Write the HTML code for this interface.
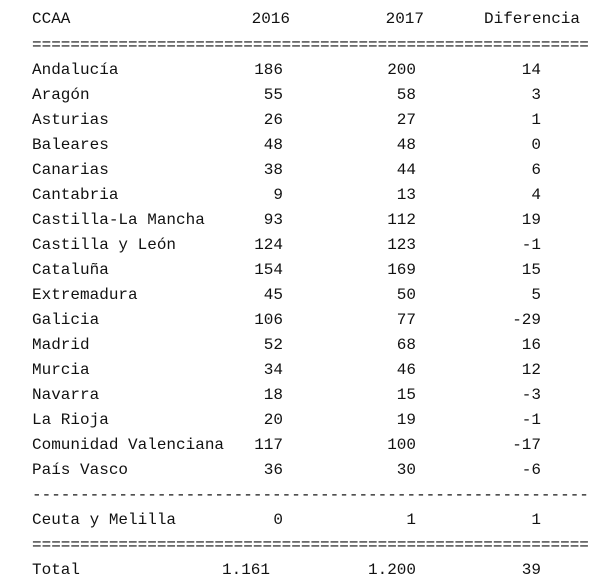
<!DOCTYPE html>
<html><head><meta charset="utf-8"><style>
body{margin:0;background:#fff;width:605px;height:582px;overflow:hidden;position:relative;font-family:"Liberation Mono",monospace;font-size:16px;color:#111}
.r{position:absolute;left:0;width:605px;height:25px;line-height:25px}
.r span{position:absolute;white-space:pre}
.a{left:32px}
.b{right:322px;text-align:right}
.c{right:189px;text-align:right}
.d{right:64px;text-align:right}
.l{position:absolute;left:32px;white-space:pre;height:25px;line-height:25px}
</style></head><body>
<div class="r" style="top:7px"><span class="a">CCAA</span><span class="b" style="right:315px">2016</span><span class="c" style="right:181px">2017</span><span class="d" style="right:25px">Diferencia</span></div>
<div class="l" style="top:33px">==========================================================</div>
<div class="r" style="top:58px"><span class="a">Andalucía</span><span class="b">186</span><span class="c">200</span><span class="d">14</span></div>
<div class="r" style="top:83px"><span class="a">Aragón</span><span class="b">55</span><span class="c">58</span><span class="d">3</span></div>
<div class="r" style="top:108px"><span class="a">Asturias</span><span class="b">26</span><span class="c">27</span><span class="d">1</span></div>
<div class="r" style="top:133px"><span class="a">Baleares</span><span class="b">48</span><span class="c">48</span><span class="d">0</span></div>
<div class="r" style="top:158px"><span class="a">Canarias</span><span class="b">38</span><span class="c">44</span><span class="d">6</span></div>
<div class="r" style="top:183px"><span class="a">Cantabria</span><span class="b">9</span><span class="c">13</span><span class="d">4</span></div>
<div class="r" style="top:208px"><span class="a">Castilla-La Mancha</span><span class="b">93</span><span class="c">112</span><span class="d">19</span></div>
<div class="r" style="top:233px"><span class="a">Castilla y León</span><span class="b">124</span><span class="c">123</span><span class="d">-1</span></div>
<div class="r" style="top:258px"><span class="a">Cataluña</span><span class="b">154</span><span class="c">169</span><span class="d">15</span></div>
<div class="r" style="top:283px"><span class="a">Extremadura</span><span class="b">45</span><span class="c">50</span><span class="d">5</span></div>
<div class="r" style="top:308px"><span class="a">Galicia</span><span class="b">106</span><span class="c">77</span><span class="d">-29</span></div>
<div class="r" style="top:333px"><span class="a">Madrid</span><span class="b">52</span><span class="c">68</span><span class="d">16</span></div>
<div class="r" style="top:358px"><span class="a">Murcia</span><span class="b">34</span><span class="c">46</span><span class="d">12</span></div>
<div class="r" style="top:383px"><span class="a">Navarra</span><span class="b">18</span><span class="c">15</span><span class="d">-3</span></div>
<div class="r" style="top:408px"><span class="a">La Rioja</span><span class="b">20</span><span class="c">19</span><span class="d">-1</span></div>
<div class="r" style="top:433px"><span class="a">Comunidad Valenciana</span><span class="b">117</span><span class="c">100</span><span class="d">-17</span></div>
<div class="r" style="top:458px"><span class="a">País Vasco</span><span class="b">36</span><span class="c">30</span><span class="d">-6</span></div>
<div class="l" style="top:483px">----------------------------------------------------------</div>
<div class="r" style="top:508px"><span class="a">Ceuta y Melilla</span><span class="b">0</span><span class="c">1</span><span class="d">1</span></div>
<div class="l" style="top:533px">==========================================================</div>
<div class="r" style="top:558px"><span class="a">Total</span><span class="b" style="right:335px">1.161</span><span class="c">1.200</span><span class="d">39</span></div>
</body></html>
